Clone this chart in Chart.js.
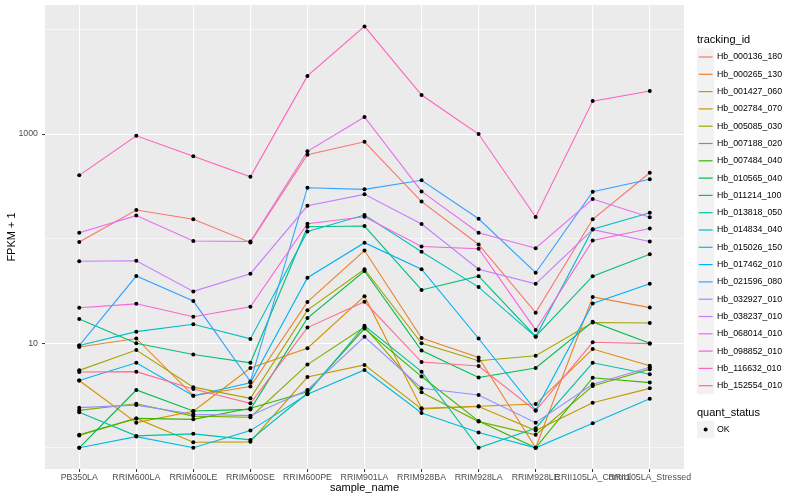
<!DOCTYPE html>
<html>
<head>
<meta charset="utf-8">
<script src="https://cdn.jsdelivr.net/npm/chart.js@4.4.1/dist/chart.umd.min.js"></script>
<style>
  html, body { margin: 0; padding: 0; background: #fff; }
  canvas { display: block; }
</style>
</head>
<body>
<canvas id="chart" width="800" height="500"></canvas>
<script>
// --- data (FPKM + 1) ---
const sampleNames = ['PB350LA', 'RRIM600LA', 'RRIM600LE', 'RRIM600SE', 'RRIM600PE', 'RRIM901LA',
    'RRIM928BA', 'RRIM928LA', 'RRIM928LE', 'RRII105LA_Control', 'RRII105LA_Stressed'];

const trackingIds = ['Hb_000136_180', 'Hb_000265_130', 'Hb_001427_060', 'Hb_002784_070', 'Hb_005085_030',
    'Hb_007188_020', 'Hb_007484_040', 'Hb_010565_040', 'Hb_011214_100', 'Hb_013818_050',
    'Hb_014834_040', 'Hb_015026_150', 'Hb_017462_010', 'Hb_021596_080', 'Hb_032927_010',
    'Hb_038237_010', 'Hb_068014_010', 'Hb_098852_010', 'Hb_116632_010', 'Hb_152554_010'];

const hb_000136_180 = [93, 188, 153, 92, 634, 843, 226, 88, 19.6, 153, 427];
const hb_000265_130 = [9.2, 11.1, 3.15, 3.85, 24.8, 77, 11.2, 7.3, 1, 27.7, 21.9];
const hb_001427_060 = [4.4, 1.74, 2.24, 5.8, 8.95, 28.2, 2.39, 2.5, 2.62, 8.8, 6.1];
const hb_002784_070 = [1.31, 1.91, 1.13, 1.14, 4.75, 6.2, 2.35, 2.48, 1.46, 2.7, 3.7];
const hb_005085_030 = [5.5, 8.6, 3.8, 2.97, 20.7, 51, 10, 6.8, 7.6, 15.8, 15.6];
const hb_007188_020 = [2.28, 2.64, 2.01, 1.96, 6.25, 14.3, 3.4, 1.78, 1.33, 3.9, 5.65];
const hb_007484_040 = [1.33, 1.91, 1.87, 2.39, 3.44, 13.8, 4.8, 1.8, 1, 4.68, 4.2];
const hb_010565_040 = [1, 3.57, 2.25, 2.33, 17.4, 49, 8.5, 4.7, 5.8, 16, 10];
const hb_011214_100 = [17, 10, 7.8, 6.5, 130, 132, 32.3, 43.8, 11.6, 43.8, 71];
const hb_013818_050 = [2.19, 1.3, 1.36, 1.19, 3.32, 14.7, 5.35, 1, 1.54, 6.5, 5.05];
const hb_014834_040 = [9.5, 12.9, 15.2, 11, 117, 168, 75, 34.4, 11.5, 123, 177];
const hb_015026_150 = [1, 1.28, 1, 1.46, 3.25, 5.55, 2.15, 1.4, 1, 1.72, 2.94];
const hb_017462_010 = [4.4, 6.5, 3.15, 4.19, 42.3, 91.5, 51, 11.1, 2.28, 24, 37];
const hb_021596_080 = [9.5, 43.9, 25.3, 4.3, 307, 296, 361, 155, 47.2, 281, 369];
const hb_032927_010 = [2.42, 2.56, 2.09, 2.03, 3.57, 11.5, 3.71, 3.2, 1.74, 4.05, 5.9];
const hb_038237_010 = [60.7, 61.5, 31.3, 46.2, 206, 265, 138, 51, 37, 122, 94];
const hb_068014_010 = [114, 166, 95, 94, 683, 1455, 283, 114, 81, 239, 160];
const hb_098852_010 = [21.8, 23.8, 17.9, 22.3, 139, 162, 84, 80, 13.4, 96, 125];
const hb_116632_010 = [403, 963, 612, 391, 3600, 10700, 2360, 1000, 161, 2065, 2580];
const hb_152554_010 = [5.3, 5.35, 3.65, 2.66, 14.1, 24.9, 6.6, 6.05, 2.26, 10.2, 9.9];

const seriesValues = [hb_000136_180, hb_000265_130, hb_001427_060, hb_002784_070, hb_005085_030,
    hb_007188_020, hb_007484_040, hb_010565_040, hb_011214_100, hb_013818_050,
    hb_014834_040, hb_015026_150, hb_017462_010, hb_021596_080, hb_032927_010,
    hb_038237_010, hb_068014_010, hb_098852_010, hb_116632_010, hb_152554_010];

const yBreaks = [10, 1000];
const yMinorBreaks = [1, 100, 10000];

// ggplot default hue palette, 20 levels
const seriesColors = ['#F8766D', '#EA8331', '#D89000', '#C09B00', '#A3A500', '#7CAE00', '#39B600',
    '#00BB4E', '#00BF7D', '#00C1A3', '#00BFC4', '#00BAE0', '#00B0F6', '#35A2FF', '#9590FF',
    '#C77CFF', '#E76BF3', '#FA62DB', '#FF62BC', '#FF6C91'];

const FONT = '"Liberation Sans", Arial, Helvetica, sans-serif';
Chart.defaults.font.family = FONT;

// --- grey panel behind the grid ---
const panelBackground = {
    id: 'panelBackground',
    beforeDraw(chart) {
        const { ctx, chartArea: a } = chart;
        ctx.save();
        ctx.fillStyle = '#EBEBEB';
        ctx.fillRect(a.left, a.top, a.right - a.left, a.bottom - a.top);
        ctx.restore();
    }
};

// --- ggplot style legends on the right ---
const sideLegend = {
    id: 'sideLegend',
    afterDraw(chart) {
        const ctx = chart.ctx;
        const x0 = 697, key = 17.3;
        ctx.save();
        ctx.textBaseline = 'middle';
        ctx.textAlign = 'left';

        ctx.fillStyle = '#000';
        ctx.font = '11px ' + FONT;
        ctx.fillText('tracking_id', x0, 40);

        ctx.font = '8.8px ' + FONT;
        trackingIds.forEach((id, i) => {
            const cy = 57 + i * key;
            ctx.fillStyle = '#F2F2F2';
            ctx.fillRect(x0, cy - key / 2, key, key);
            ctx.strokeStyle = seriesColors[i];
            ctx.lineWidth = 1.2;
            ctx.beginPath();
            ctx.moveTo(x0 + 1.7, cy);
            ctx.lineTo(x0 + key - 1.7, cy);
            ctx.stroke();
            ctx.fillStyle = '#000';
            ctx.fillText(id, 717, cy);
        });

        ctx.font = '11px ' + FONT;
        ctx.fillText('quant_status', x0, 412.5);
        const okY = 429.5;
        ctx.fillStyle = '#F2F2F2';
        ctx.fillRect(x0, okY - key / 2, key, key);
        ctx.fillStyle = '#000';
        ctx.beginPath();
        ctx.arc(x0 + key / 2, okY, 2, 0, Math.PI * 2);
        ctx.fill();
        ctx.font = '8.8px ' + FONT;
        ctx.fillText('OK', 717, okY);
        ctx.restore();
    }
};

const lineSets = seriesValues.map((vals, i) => ({
    label: trackingIds[i],
    data: vals.map((v, j) => ({ x: j, y: v })),
    borderColor: seriesColors[i],
    backgroundColor: seriesColors[i],
    borderWidth: 1.1,
    pointRadius: 0,
    fill: false,
    tension: 0,
    order: 100 - i
}));

const pointSet = {
    label: 'OK',
    data: seriesValues.flatMap(vals => vals.map((v, j) => ({ x: j, y: v }))),
    showLine: false,
    pointRadius: 2,
    pointBackgroundColor: '#000',
    pointBorderWidth: 0,
    order: 0
};

new Chart(document.getElementById('chart'), {
    type: 'line',
    data: { datasets: [pointSet, ...lineSets] },
    options: {
        responsive: false,
        animation: false,
        events: [],
        layout: { padding: { left: 0, right: 116, top: 5, bottom: 0 } },
        plugins: { legend: { display: false }, tooltip: { enabled: false } },
        scales: {
            x: {
                type: 'linear',
                bounds: 'data',
                min: -0.6,
                max: 10.6,
                afterBuildTicks: (scale) => { scale.ticks = sampleNames.map((_, i) => ({ value: i })); },
                afterFit: (scale) => { scale.height = 31; },
                ticks: {
                    autoSkip: false,
                    maxRotation: 0,
                    minRotation: 0,
                    padding: 0,
                    color: '#4D4D4D',
                    font: { size: 8.8 },
                    callback: (v) => sampleNames[v]
                },
                grid: { color: '#FFFFFF', lineWidth: 1.1, tickLength: 3, tickColor: '#333333', tickWidth: 1 },
                border: { display: false },
                title: { display: true, text: 'sample_name', color: '#000', font: { size: 11 }, padding: { top: 0, bottom: 5 } }
            },
            y: {
                type: 'logarithmic',
                bounds: 'data',
                min: 0.627,
                max: 17140,
                afterBuildTicks: (scale) => {
                    scale.ticks = [...yMinorBreaks, ...yBreaks].sort((a, b) => a - b).map(v => ({ value: v }));
                },
                afterFit: (scale) => {
                    scale.width = 45;
                    scale.paddingTop = 0;
                    scale.paddingBottom = 0;
                },
                ticks: {
                    padding: 4,
                    color: '#4D4D4D',
                    font: { size: 8.8 },
                    callback: (v) => yBreaks.includes(v) ? String(v) : ''
                },
                grid: {
                    color: '#FFFFFF',
                    lineWidth: (c) => yBreaks.includes(c.tick && c.tick.value) ? 1.1 : 0.55,
                    tickLength: 3,
                    tickWidth: 1,
                    tickColor: (c) => yBreaks.includes(c.tick && c.tick.value) ? '#333333' : 'rgba(0,0,0,0)'
                },
                border: { display: false },
                title: { display: true, text: 'FPKM + 1', color: '#000', font: { size: 11 }, padding: { top: 5, bottom: 0 } }
            }
        }
    },
    plugins: [panelBackground, sideLegend]
});
</script>
</body>
</html>
